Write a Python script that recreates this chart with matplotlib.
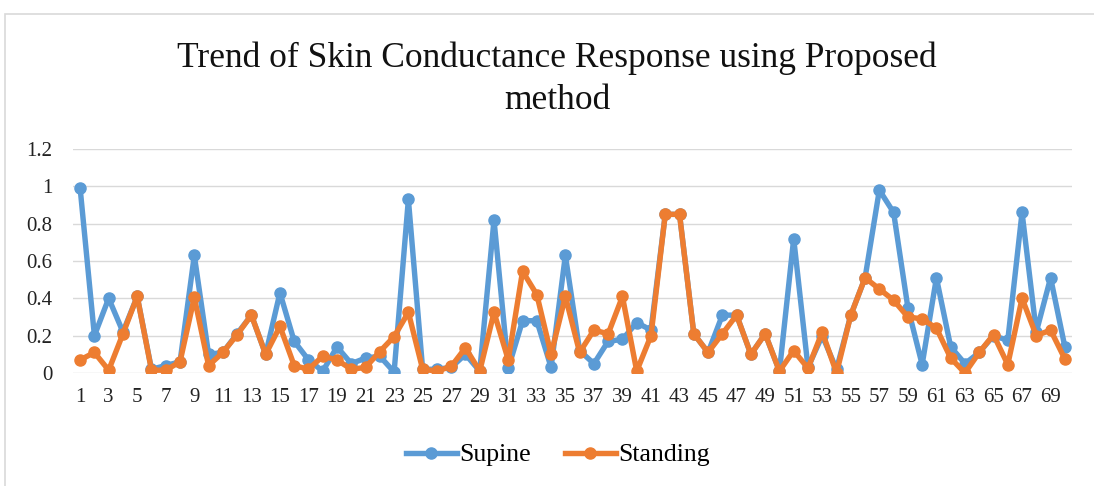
import matplotlib
matplotlib.use("Agg")
import matplotlib.pyplot as plt
from matplotlib.patches import Rectangle

title = "Trend of Skin Conductance Response using Proposed\nmethod"
series_names = ["Supine", "Standing"]
x_index = list(range(1, 71))

supine = [0.99, 0.20, 0.40, 0.22, 0.41, 0.02, 0.04, 0.06, 0.63, 0.10,
          0.11, 0.21, 0.31, 0.10, 0.43, 0.17, 0.07, 0.01, 0.14, 0.05,
          0.08, 0.09, 0.005, 0.93, 0.02, 0.02, 0.03, 0.10, 0.01, 0.82,
          0.025, 0.28, 0.28, 0.03, 0.63, 0.12, 0.05, 0.17, 0.18, 0.27,
          0.23, 0.85, 0.85, 0.21, 0.11, 0.31, 0.31, 0.10, 0.21, 0.01,
          0.72, 0.03, 0.20, 0.02, 0.31, 0.51, 0.98, 0.86, 0.35, 0.045,
          0.51, 0.14, 0.05, 0.11, 0.20, 0.175, 0.86, 0.22, 0.51, 0.14]

standing = [0.07, 0.11, 0.015, 0.21, 0.41, 0.015, 0.015, 0.06, 0.405, 0.04,
            0.11, 0.205, 0.31, 0.10, 0.25, 0.04, 0.02, 0.09, 0.07, 0.02,
            0.03, 0.115, 0.195, 0.325, 0.02, 0.01, 0.035, 0.135, 0.01, 0.325,
            0.07, 0.545, 0.42, 0.10, 0.41, 0.11, 0.23, 0.21, 0.41, 0.01,
            0.20, 0.85, 0.85, 0.21, 0.11, 0.21, 0.31, 0.10, 0.21, 0.01,
            0.12, 0.025, 0.22, 0.0, 0.31, 0.51, 0.45, 0.39, 0.30, 0.29,
            0.24, 0.08, 0.0, 0.11, 0.205, 0.045, 0.40, 0.20, 0.23, 0.075]

colors = ["#5B9BD5", "#ED7D31"]
y_ticks = [0, 0.2, 0.4, 0.6, 0.8, 1, 1.2]
y_tick_labels = ["0", "0.2", "0.4", "0.6", "0.8", "1", "1.2"]

plt.rcParams['font.family'] = ['Liberation Serif', 'DejaVu Serif']

W, H = 1094, 486
fig = plt.figure(figsize=(W / 100, H / 100), dpi=100)
fig.patch.set_facecolor("white")
fig.patches.append(Rectangle((5 / W, -0.01), 1.02, (H - 14) / H + 0.01,
                             transform=fig.transFigure, fill=False,
                             edgecolor="#d9d9d9", linewidth=1.2))

ax = fig.add_axes([73 / W, (H - 373) / H, 999 / W, 224 / H])
for name, vals, c in zip(series_names, [supine, standing], colors):
    ax.plot(x_index, vals, color=c, linewidth=3.9, marker="o",
            markersize=8, label=name, solid_joinstyle="round")

ax.set_xlim(0.5, 70.5)
ax.set_ylim(0, 1.2)
ax.set_yticks(y_ticks)
ax.set_yticklabels(y_tick_labels, fontsize=15)
ax.set_xticks(x_index[::2])
ax.set_xticklabels([str(v) for v in x_index[::2]], fontsize=15)
ax.tick_params(axis="both", length=0, colors="#222222")
ax.tick_params(axis="y", pad=15)
ax.tick_params(axis="x", pad=11)
ax.grid(axis="y", color="#d9d9d9", linewidth=1)
ax.set_axisbelow(True)
for s in ax.spines.values():
    s.set_visible(False)

fig.text(557 / W, 1 - 79 / H, title, ha="center", va="center",
         fontsize=25.5, color="#111111", linespacing=1.35)

leg = fig.legend(loc="center", bbox_to_anchor=(558 / W, 1 - 455 / H),
                 ncol=2, frameon=False, fontsize=18.5, handlelength=2.0,
                 columnspacing=1.3, handletextpad=0.1)

fig.savefig("out.png", dpi=100)
